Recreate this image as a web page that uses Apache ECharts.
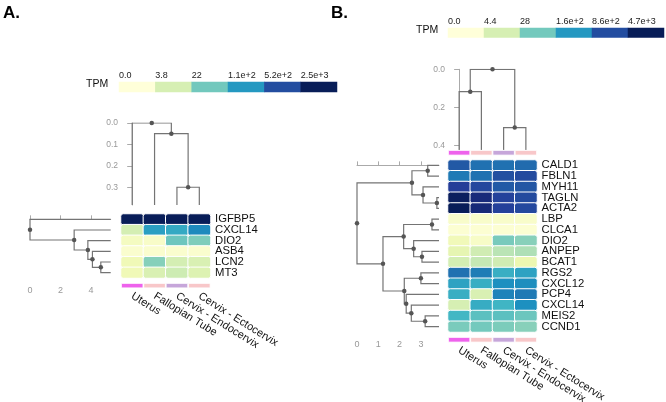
<!DOCTYPE html>
<html><head><meta charset="utf-8">
<script src="https://cdn.jsdelivr.net/npm/echarts@6/dist/echarts.min.js"></script>
<style>html,body{margin:0;padding:0;background:#fff}#c{width:666px;height:402px}</style>
</head><body><div id="c"></div>
<script>
// ---------- data ----------
const tissues = ['Uterus', 'Fallopian Tube', 'Cervix - Endocervix', 'Cervix - Ectocervix'];
const tissueColors = ['#ee62ec', '#f8c7c9', '#c6a6da', '#f8c7c9'];

const genesA = ['IGFBP5', 'CXCL14', 'DIO2', 'ASB4', 'LCN2', 'MT3'];
const tpmA = [
  [2500, 2500, 2500, 2500],
  [4, 90, 70, 150],
  [0.8, 0.5, 24, 18],
  [0.3, 0.3, 0.3, 0.3],
  [1.3, 16, 4, 3.5],
  [1.3, 3.5, 5, 3]
];
const legendLabelsA = ['0.0', '3.8', '22', '1.1e+2', '5.2e+2', '2.5e+3'];
const legendValuesA = [0, 3.8, 22, 110, 520, 2500];
const colMergesA = [[2, 3, 0.30], [1, 4, 0.05], [0, 5, 0]];
const colLeafA = 0.383;
const rowMergesA = [[4, 5, 4.65], [3, 6, 4.1], [2, 7, 3.8], [1, 8, 2.9], [0, 9, 0]];
const rowLeafA = 5.3;

const genesB = ['CALD1', 'FBLN1', 'MYH11', 'TAGLN', 'ACTA2', 'LBP', 'CLCA1', 'DIO2', 'ANPEP', 'BCAT1',
  'RGS2', 'CXCL12', 'PCP4', 'CXCL14', 'MEIS2', 'CCND1'];
const tpmB = [
  [650, 380, 380, 430],
  [320, 380, 800, 950],
  [1300, 1000, 620, 700],
  [4200, 2600, 1150, 950],
  [4700, 2700, 1200, 980],
  [0.5, 0.5, 0.5, 0.5],
  [0.2, 0.2, 0.2, 0.2],
  [1.3, 0.6, 26, 20],
  [2.5, 5.5, 9, 11],
  [5, 7.5, 5.5, 2],
  [380, 300, 85, 120],
  [120, 85, 200, 210],
  [85, 4, 260, 320],
  [4.5, 90, 70, 200],
  [65, 42, 42, 32],
  [25, 28, 24, 20]
];
const legendLabelsB = ['0.0', '4.4', '28', '1.6e+2', '8.6e+2', '4.7e+3'];
const legendValuesB = [0, 4.4, 28, 160, 860, 4700];
const colMergesB = [[0, 1, 0.118], [2, 3, 0.307], [4, 5, 0]];
const colLeafB = 0.425;
const rowMergesB = [
  [0, 1, 3.32], [3, 4, 3.75], [2, 17, 3.1], [16, 18, 2.58],
  [5, 6, 3.52], [8, 9, 3.05], [7, 21, 2.66], [20, 22, 2.19],
  [10, 11, 3.0], [14, 15, 3.2], [13, 25, 2.55], [12, 26, 2.31], [24, 27, 2.22],
  [23, 28, 1.22], [19, 29, 0]
];
const rowLeafB = 3.85;

// ---------- helpers ----------
const YlGnBu = ['#ffffd9', '#edf8b1', '#c7e9b4', '#7fcdbb', '#41b6c4', '#1d91c0', '#225ea8', '#253494', '#081d58'];
const FONT = '"Liberation Sans", Arial, Helvetica, sans-serif';
const lg = v => Math.log10(v + 1);
const maxA = lg(legendValuesA[legendValuesA.length - 1]);
const maxB = lg(legendValuesB[legendValuesB.length - 1]);

function dendro(n, merges, leafH, horizontal) {
  const pos = [], h = [];
  for (let i = 0; i < n; i++) { pos.push(i); h.push(leafH); }
  const links = [], nodes = [];
  const pt = (p, hh) => horizontal ? [hh, p] : [p, hh];
  merges.forEach(([a, b, ht]) => {
    const m = (pos[a] + pos[b]) / 2;
    pos.push(m); h.push(ht);
    links.push({ coords: [pt(pos[a], h[a]), pt(pos[a], ht), pt(pos[b], ht), pt(pos[b], h[b])] });
    nodes.push(pt(m, ht));
  });
  return { links, nodes };
}
function cells(tpm, max) {
  const out = [];
  tpm.forEach((row, r) => row.forEach((v, c) => out.push([c, r, Math.min(lg(v), max)])));
  return out;
}

const colA = dendro(4, colMergesA, colLeafA, false);
const rowA = dendro(genesA.length, rowMergesA, rowLeafA, true);
const colB = dendro(4, colMergesB, colLeafB, false);
const rowB = dendro(genesB.length, rowMergesB, rowLeafB, true);

const lineCol = '#747474';
const axCol = '#aaaaaa';
const lblCol = '#999999';
const cellStyle = { borderColor: '#ffffff', borderWidth: 1, borderRadius: 2.5 };

const G = (left, top, width, height) => ({ left, top, width, height, containLabel: false, outerBoundsMode: 'none' });
const grids = [
  G(121, 214, 89.5, 64),   // 0 A heat
  G(121, 283, 89.5, 5.3),  // 1 A tissue bar
  G(121, 123, 89.5, 82),   // 2 A top dendro
  G(30, 214, 80.7, 64),    // 3 A left dendro
  G(119, 82, 218, 10),     // 4 A legend
  G(448, 160, 89, 172),    // 5 B heat
  G(448, 150, 89, 5.5),    // 6 B top bar
  G(448, 337, 89, 5.5),    // 7 B bottom bar
  G(448, 69.3, 89, 80.7),  // 8 B top dendro
  G(357, 160, 82, 172),    // 9 B left dendro
  G(448, 28, 216, 9.5)     // 10 B legend
];

const geneAxis = (gi, genes) => ({
  gridIndex: gi, type: 'category', data: genes, inverse: true, position: 'right',
  axisLine: { show: false }, axisTick: { show: false }, splitLine: { show: false },
  axisLabel: { fontSize: 11.3, color: '#111', margin: 4.5, interval: 0, fontFamily: FONT }
});
const tissueAxis = (gi, showLabels) => ({
  gridIndex: gi, type: 'category', data: tissues,
  axisLine: { show: false }, axisTick: { show: false }, splitLine: { show: false },
  axisLabel: { show: showLabels, rotate: -32, fontSize: 11, color: '#111', margin: 7, interval: 0, fontFamily: FONT }
});
const hiddenCat = (gi, data) => ({ gridIndex: gi, type: 'category', data, show: false });
const hiddenVal = (gi, min, max, inverse) => ({ gridIndex: gi, type: 'value', min, max, inverse: !!inverse, show: false, splitLine: { show: false } });
const dendroColAxis = (gi, max, interval) => ({
  gridIndex: gi, type: 'value', min: 0, max, interval, inverse: true, position: 'left',
  axisLine: { show: true, lineStyle: { color: axCol, width: 1 } },
  axisTick: { show: true, length: 5, lineStyle: { color: axCol } },
  axisLabel: { color: lblCol, fontSize: 8.5, margin: 3, fontFamily: FONT, showMaxLabel: false, formatter: v => v.toFixed(1) },
  splitLine: { show: false }
});
const dendroRowAxis = (gi, max, interval) => ({
  gridIndex: gi, type: 'value', min: 0, max, interval, position: 'bottom', offset: 4.5,
  axisLine: { show: true, lineStyle: { color: axCol, width: 1 } },
  axisTick: { show: true, inside: true, length: 4, lineStyle: { color: axCol } },
  axisLabel: { color: lblCol, fontSize: 9, margin: 4, fontFamily: FONT, showMaxLabel: false },
  splitLine: { show: false }
});
const legendLabelAxis = (gi, labels) => ({
  gridIndex: gi, type: 'value', position: 'top', min: 0, max: labels.length, interval: 1,
  axisLine: { show: false }, axisTick: { show: false }, splitLine: { show: false },
  axisLabel: { align: 'left', fontSize: 9, color: '#222', margin: 2, fontFamily: FONT, showMaxLabel: false,
    formatter: v => labels[Math.round(v)] || '' }
});

const xAxis = [
  hiddenCat(0, tissues),
  tissueAxis(1, true),
  hiddenVal(2, -0.5, 3.5),
  dendroRowAxis(3, rowLeafA, 2),
  hiddenCat(4, legendLabelsA),
  hiddenCat(5, tissues),
  tissueAxis(6, false),
  tissueAxis(7, true),
  hiddenVal(8, -0.5, 3.5),
  dendroRowAxis(9, rowLeafB, 1),
  hiddenCat(10, legendLabelsB),
  legendLabelAxis(4, legendLabelsA),
  legendLabelAxis(10, legendLabelsB)
];
const yAxis = [
  geneAxis(0, genesA),
  hiddenVal(1, 0, 1),
  dendroColAxis(2, colLeafA, 0.1),
  hiddenVal(3, -0.5, genesA.length - 0.5, true),
  hiddenCat(4, ['l']),
  geneAxis(5, genesB),
  hiddenVal(6, 0, 1),
  hiddenVal(7, 0, 1),
  dendroColAxis(8, colLeafB, 0.2),
  hiddenVal(9, -0.5, genesB.length - 0.5, true),
  hiddenCat(10, ['l'])
];

const barSeries = ax => ({
  type: 'bar', xAxisIndex: ax, yAxisIndex: ax, silent: true, barWidth: '100%',
  data: tissues.map((t, i) => ({ value: 1, itemStyle: { color: tissueColors[i] } })),
  itemStyle: { borderColor: '#ffffff', borderWidth: 0.8 }
});
const linesSeries = (ax, d) => ({
  type: 'lines', coordinateSystem: 'cartesian2d', xAxisIndex: ax, yAxisIndex: ax, polyline: true,
  silent: true, data: d.links, lineStyle: { color: lineCol, width: 1.2, opacity: 1 }
});
const nodeSeries = (ax, d) => ({
  type: 'scatter', xAxisIndex: ax, yAxisIndex: ax, data: d.nodes, symbolSize: 4.5, silent: true,
  itemStyle: { color: '#555555', opacity: 1 }, z: 5
});

const series = [
  // 0 A heat
  { type: 'heatmap', xAxisIndex: 0, yAxisIndex: 0, data: cells(tpmA, maxA), itemStyle: cellStyle, silent: true },
  // 1 A bar
  barSeries(1),
  linesSeries(2, colA), nodeSeries(2, colA),
  linesSeries(3, rowA), nodeSeries(3, rowA),
  // 6 A legend
  { type: 'heatmap', xAxisIndex: 4, yAxisIndex: 4, data: legendValuesA.map((v, i) => [i, 0, lg(v)]), silent: true },
  // 7 B heat
  { type: 'heatmap', xAxisIndex: 5, yAxisIndex: 5, data: cells(tpmB, maxB), itemStyle: cellStyle, silent: true },
  barSeries(6),
  barSeries(7),
  linesSeries(8, colB), nodeSeries(8, colB),
  linesSeries(9, rowB), nodeSeries(9, rowB),
  // 14 B legend
  { type: 'heatmap', xAxisIndex: 10, yAxisIndex: 10, data: legendValuesB.map((v, i) => [i, 0, lg(v)]), silent: true }
];

const chart = echarts.init(document.getElementById('c'), null, { renderer: 'canvas' });
chart.setOption({
  animation: false,
  backgroundColor: '#ffffff',
  textStyle: { fontFamily: FONT },
  grid: grids,
  xAxis, yAxis,
  visualMap: [
    { type: 'continuous', show: false, min: 0, max: maxA, dimension: 2, seriesIndex: [0, 6], inRange: { color: YlGnBu } },
    { type: 'continuous', show: false, min: 0, max: maxB, dimension: 2, seriesIndex: [7, 14], inRange: { color: YlGnBu } }
  ],
  series,
  graphic: [
    { type: 'text', left: 3, top: 5, style: { text: 'A.', font: 'bold 17px ' + FONT, fill: '#000' } },
    { type: 'text', left: 331, top: 5, style: { text: 'B.', font: 'bold 17px ' + FONT, fill: '#000' } },
    { type: 'text', left: 86, top: 79, style: { text: 'TPM', font: '10.5px ' + FONT, fill: '#111' } },
    { type: 'text', left: 416, top: 25, style: { text: 'TPM', font: '10.5px ' + FONT, fill: '#111' } }
  ]
});
</script></body></html>
